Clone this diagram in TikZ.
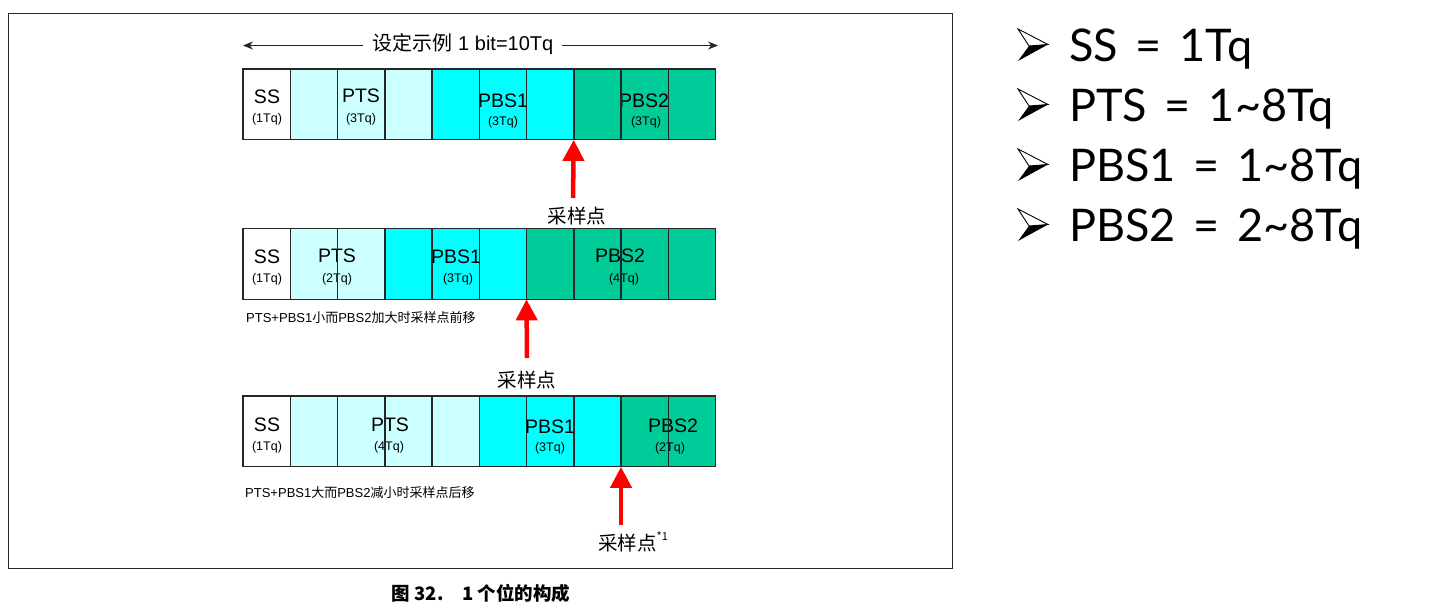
\documentclass[tikz,border=0pt]{standalone}
\usepackage{fontspec}
\setmainfont{Liberation Sans}
\newfontfamily\cjk{Noto Sans CJK SC}
\newfontfamily\listfont[WordSpace=1.55]{Lato}
\usetikzlibrary{arrows.meta}
\definecolor{lc}{RGB}{204,255,255}
\definecolor{cy}{RGB}{0,255,255}
\definecolor{gr}{RGB}{0,204,153}
\definecolor{frameline}{RGB}{40,40,40}
\begin{document}
\begin{tikzpicture}[x=1pt,y=-1pt,
  cellfill/.style={minimum width=47.25pt, minimum height=70.5pt, inner sep=0pt, anchor=north west},
  cellline/.style={draw=black!85, line width=1.1pt},
  big/.style={font=\fontsize{19.5}{19.5}\selectfont, inner sep=0pt},
  small/.style={font=\fontsize{12.5}{12.5}\selectfont, inner sep=0pt},
  sample/.style={font=\cjk\fontsize{19.5}{19.5}\selectfont, inner sep=0pt},
  note/.style={font=\fontsize{13}{13}\selectfont, inner sep=0pt, anchor=west},
  redarrow/.style={draw=red, line width=4.5pt, -{Triangle[length=21pt,width=21pt]}},
  thinarrow/.style={draw=black!85, line width=1.1pt, -{Stealth[length=10pt,width=8pt]}},
  listtext/.style={font=\listfont\fontsize{45}{45}\selectfont, inner sep=0pt, anchor=base west},
  arrbullet/.pic={
    \draw[line width=0.9pt, line join=miter] (0,0) -- (30,15.5) -- (11,17) -- cycle;
    \fill (11,17) -- (30,15.5) -- (0,32) -- cycle;}]
\useasboundingbox (0,0) rectangle (1435,608);
\fill[white] (0,0) rectangle (1435,608);
% frame
\node[draw=frameline, line width=1.3pt, minimum width=944pt, minimum height=555pt, inner sep=0pt, anchor=north west] (frame) at (8,13) {};
% title
\node[font=\fontsize{20}{20}\selectfont, inner sep=0pt] (title) at (463,44) {{\cjk 设定示例} 1 bit=10Tq};
\coordinate (tl) at (243,45.5);
\coordinate (tr) at (718,45.5);
\draw[thinarrow] ([xshift=-9pt,yshift=-1.5pt]title.west) -- (tl);
\draw[thinarrow] ([xshift=8pt,yshift=-1.5pt]title.east) -- (tr);
% row 1
\foreach \c [count=\i from 0] in {white,lc,lc,lc,cy,cy,cy,gr,gr,gr}
  \node[cellfill, fill=\c] (a\i) at ({243+47.25*\i},69) {};
\node[big] (a-ss) at (267,97) {SS};
\node[small] (a-ssq) at (267,119) {(1Tq)};
\node[big] (a-pts) at (361,96) {PTS};
\node[small] (a-ptsq) at (361,119) {(3Tq)};
\node[big] (a-pbs1) at (503,101) {PBS1};
\node[small] (a-pbs1q) at (503,122) {(3Tq)};
\node[big] (a-pbs2) at (644,101) {PBS2};
\node[small] (a-pbs2q) at (646,122) {(3Tq)};
\foreach \i in {0,...,9} \draw[cellline] (a\i.north west) rectangle (a\i.south east);
% row 2
\foreach \c [count=\i from 0] in {white,lc,lc,cy,cy,cy,gr,gr,gr,gr}
  \node[cellfill, fill=\c] (b\i) at ({243+47.25*\i},228.5) {};
\node[big] (b-ss) at (267,257) {SS};
\node[small] (b-ssq) at (267,279) {(1Tq)};
\node[big] (b-pts) at (337,256) {PTS};
\node[small] (b-ptsq) at (337,279) {(2Tq)};
\node[big] (b-pbs1) at (456,257) {PBS1};
\node[small] (b-pbs1q) at (458,279) {(3Tq)};
\node[big] (b-pbs2) at (620,256) {PBS2};
\node[small] (b-pbs2q) at (624,279) {(4Tq)};
\foreach \i in {0,...,9} \draw[cellline] (b\i.north west) rectangle (b\i.south east);
% row 3
\foreach \c [count=\i from 0] in {white,lc,lc,lc,lc,cy,cy,cy,gr,gr}
  \node[cellfill, fill=\c] (c\i) at ({243+47.25*\i},396) {};
\node[big] (c-ss) at (267,425) {SS};
\node[small] (c-ssq) at (267,447) {(1Tq)};
\node[big] (c-pts) at (390,425) {PTS};
\node[small] (c-ptsq) at (389,447) {(4Tq)};
\node[big] (c-pbs1) at (550,427) {PBS1};
\node[small] (c-pbs1q) at (550,448) {(3Tq)};
\node[big] (c-pbs2) at (673,426) {PBS2};
\node[small] (c-pbs2q) at (670,448) {(2Tq)};
\foreach \i in {0,...,9} \draw[cellline] (c\i.north west) rectangle (c\i.south east);
% sampling arrows
\coordinate (s1) at (573,198);
\draw[redarrow] (s1) -- (a7.south west);
\node[sample] (l1) at (577,216) {采样点};
\coordinate (s2) at (527,358);
\draw[redarrow] (s2) -- (b6.south west);
\node[sample] (l2) at (527,380) {采样点};
\coordinate (s3) at (621,525);
\draw[redarrow] (s3) -- (c8.south west);
\node[sample, anchor=west] (l3) at (598,542) {采样点\raisebox{0.55em}{\fontsize{11}{11}\selectfont *1}};
% notes
\node[note] (n1) at (246,318) {PTS+PBS1{\cjk 小而}PBS2{\cjk 加大时采样点前移}};
\node[note] (n2) at (245,493) {PTS+PBS1{\cjk 大而}PBS2{\cjk 减小时采样点后移}};
% caption
\node[font=\cjk\bfseries\fontsize{18.5}{18.5}\selectfont, inner sep=0pt] (cap) at (481,593) {图 32.\quad 1 个位的构成};
% right list
\pic at (1018,29) {arrbullet};
\node[listtext] (t1) at (1069,61) {SS = 1Tq};
\pic at (1018,89) {arrbullet};
\node[listtext] (t2) at (1069,121) {PTS = 1\textasciitilde 8Tq};
\pic at (1018,149) {arrbullet};
\node[listtext] (t3) at (1069,181) {PBS1 = 1\textasciitilde 8Tq};
\pic at (1018,209) {arrbullet};
\node[listtext] (t4) at (1069,241) {PBS2 = 2\textasciitilde 8Tq};
\end{tikzpicture}
\end{document}
